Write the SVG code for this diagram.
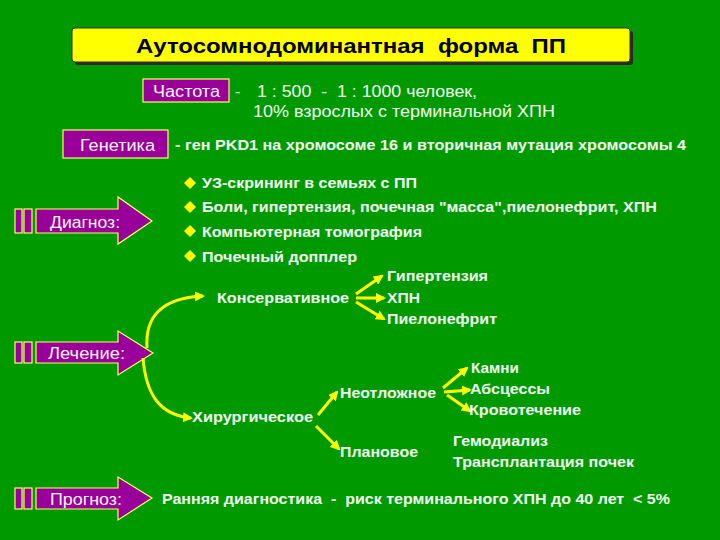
<svg xmlns="http://www.w3.org/2000/svg" width="720" height="540" viewBox="0 0 720 540">
<style>
text{white-space:pre}
.lbl{font-family:"Liberation Sans",Arial,sans-serif;font-size:16px;fill:#FFF4FF}
.txt{font-family:"Liberation Sans",Arial,sans-serif;font-size:16px;fill:#F0FFF0}
.b{font-family:"Liberation Sans",Arial,sans-serif;font-size:14px;font-weight:bold;fill:#F0FFF0}
.box{fill:#990099;stroke:#FFFF66;stroke-width:1.2}
.con{fill:none;stroke:#FFFF00;stroke-width:3}
.sm{fill:none;stroke:#FFFF00;stroke-width:3}
</style>
<defs>
<marker id="ah" markerUnits="userSpaceOnUse" markerWidth="10" markerHeight="10" refX="8" refY="5" orient="auto">
<path d="M0,0 L10,5 L0,10 z" fill="#FFFF00"/>
</marker>
</defs>
<rect width="720" height="540" fill="#009900"/>

<g id="title">
<rect x="75" y="31" width="558" height="34" rx="3" fill="#2a2a2a"/>
<rect x="72" y="28" width="558" height="34" rx="3" fill="#FFFF00" stroke="#333" stroke-width="1"/>
<text x="351" y="53" text-anchor="middle" font-family="'Liberation Sans',Arial,sans-serif" font-size="20" font-weight="bold" fill="#000" textLength="430" lengthAdjust="spacingAndGlyphs">Аутосомнодоминантная  форма  ПП</text>
</g>

<g id="freq">
<rect class="box" x="143" y="79" width="86" height="23"/>
<text class="lbl" x="153" y="97" textLength="67" lengthAdjust="spacingAndGlyphs">Частота</text>
<text class="txt" x="235" y="97">-</text>
<text class="txt" x="257" y="97" textLength="220" lengthAdjust="spacingAndGlyphs">1 : 500  -  1 : 1000 человек,</text>
<text class="txt" x="253" y="117" textLength="302" lengthAdjust="spacingAndGlyphs">10% взрослых с терминальной ХПН</text>
</g>

<g id="genetics">
<rect class="box" x="63" y="130" width="105" height="28"/>
<text class="lbl" x="80" y="151" textLength="75" lengthAdjust="spacingAndGlyphs">Генетика</text>
<text class="b" x="175" y="150" textLength="511" lengthAdjust="spacingAndGlyphs">- ген PKD1 на хромосоме 16 и вторичная мутация хромосомы 4</text>
</g>

<g id="diagnosis">
<rect class="box" x="15" y="209" width="7" height="24"/>
<rect class="box" x="24" y="209" width="8" height="24"/>
<path class="box" d="M36,209 L118,209 L118,197 L152,221 L118,244 L118,233 L36,233 z"/>
<text class="lbl" x="50" y="228" textLength="70" lengthAdjust="spacingAndGlyphs">Диагноз:</text>
</g>

<g id="diag-list">
<path d="M190,177 L196,183 L190,189 L184,183 z" fill="#FFFF00"/>
<path d="M190,201 L196,207 L190,213 L184,207 z" fill="#FFFF00"/>
<path d="M190,225 L196,231 L190,237 L184,231 z" fill="#FFFF00"/>
<path d="M190,250 L196,256 L190,262 L184,256 z" fill="#FFFF00"/>
<text class="b" x="202" y="188" textLength="215" lengthAdjust="spacingAndGlyphs">УЗ-скрининг в семьях с ПП</text>
<text class="b" x="202" y="212" textLength="455" lengthAdjust="spacingAndGlyphs">Боли, гипертензия, почечная "масса",пиелонефрит, ХПН</text>
<text class="b" x="202" y="237" textLength="220" lengthAdjust="spacingAndGlyphs">Компьютерная томография</text>
<text class="b" x="202" y="262" textLength="155" lengthAdjust="spacingAndGlyphs">Почечный допплер</text>
</g>

<g id="treatment">
<rect class="box" x="15" y="342" width="7" height="21"/>
<rect class="box" x="24" y="342" width="8" height="21"/>
<path class="box" d="M36,342 L118,342 L118,331 L153,353 L118,375 L118,363 L36,363 z"/>
<text class="lbl" x="48" y="359" textLength="77" lengthAdjust="spacingAndGlyphs">Лечение:</text>
</g>

<g id="connectors">
<path class="con" d="M147,348 C145,318 160,298 203,296" marker-end="url(#ah)"/>
<path class="con" d="M143,358 C146,395 160,415 191,418" marker-end="url(#ah)"/>
<path class="sm" d="M356,294 L382,276" marker-end="url(#ah)"/>
<path class="sm" d="M356,298 L384,298" marker-end="url(#ah)"/>
<path class="sm" d="M356,302 L384,319" marker-end="url(#ah)"/>
<path class="sm" d="M318,415 L337,392" marker-end="url(#ah)"/>
<path class="sm" d="M316,426 L339,449" marker-end="url(#ah)"/>
<path class="sm" d="M443,388 L467,368" marker-end="url(#ah)"/>
<path class="sm" d="M444,392 L470,390" marker-end="url(#ah)"/>
<path class="sm" d="M447,395 L470,411" marker-end="url(#ah)"/>
</g>

<g id="conservative"><text class="b" x="217" y="303" textLength="132" lengthAdjust="spacingAndGlyphs">Консервативное</text></g>
<g id="hypertension"><text class="b" x="387" y="281" textLength="101" lengthAdjust="spacingAndGlyphs">Гипертензия</text></g>
<g id="hpn"><text class="b" x="387" y="303" textLength="33" lengthAdjust="spacingAndGlyphs">ХПН</text></g>
<g id="pyelo"><text class="b" x="387" y="324" textLength="110" lengthAdjust="spacingAndGlyphs">Пиелонефрит</text></g>
<g id="surgical"><text class="b" x="192" y="422" textLength="121" lengthAdjust="spacingAndGlyphs">Хирургическое</text></g>
<g id="urgent"><text class="b" x="340" y="398" textLength="96" lengthAdjust="spacingAndGlyphs">Неотложное</text></g>
<g id="planned"><text class="b" x="340" y="457" textLength="78" lengthAdjust="spacingAndGlyphs">Плановое</text></g>
<g id="stones"><text class="b" x="471" y="373" textLength="48" lengthAdjust="spacingAndGlyphs">Камни</text></g>
<g id="abscess"><text class="b" x="470" y="394" textLength="80" lengthAdjust="spacingAndGlyphs">Абсцессы</text></g>
<g id="bleeding"><text class="b" x="469" y="415" textLength="112" lengthAdjust="spacingAndGlyphs">Кровотечение</text></g>
<g id="planned-list">
<text class="b" x="453" y="446" textLength="95" lengthAdjust="spacingAndGlyphs">Гемодиализ</text>
<text class="b" x="453" y="467" textLength="181" lengthAdjust="spacingAndGlyphs">Трансплантация почек</text>
</g>

<g id="prognosis">
<rect class="box" x="15" y="488" width="7" height="21"/>
<rect class="box" x="24" y="488" width="8" height="21"/>
<path class="box" d="M36,488 L118,488 L118,477 L152,498 L118,520 L118,509 L36,509 z"/>
<text class="lbl" x="50" y="505" textLength="72" lengthAdjust="spacingAndGlyphs">Прогноз:</text>
<text class="b" x="162" y="504" textLength="508" lengthAdjust="spacingAndGlyphs">Ранняя диагностика  -  риск терминального ХПН до 40 лет  &lt; 5%</text>
</g>
</svg>
